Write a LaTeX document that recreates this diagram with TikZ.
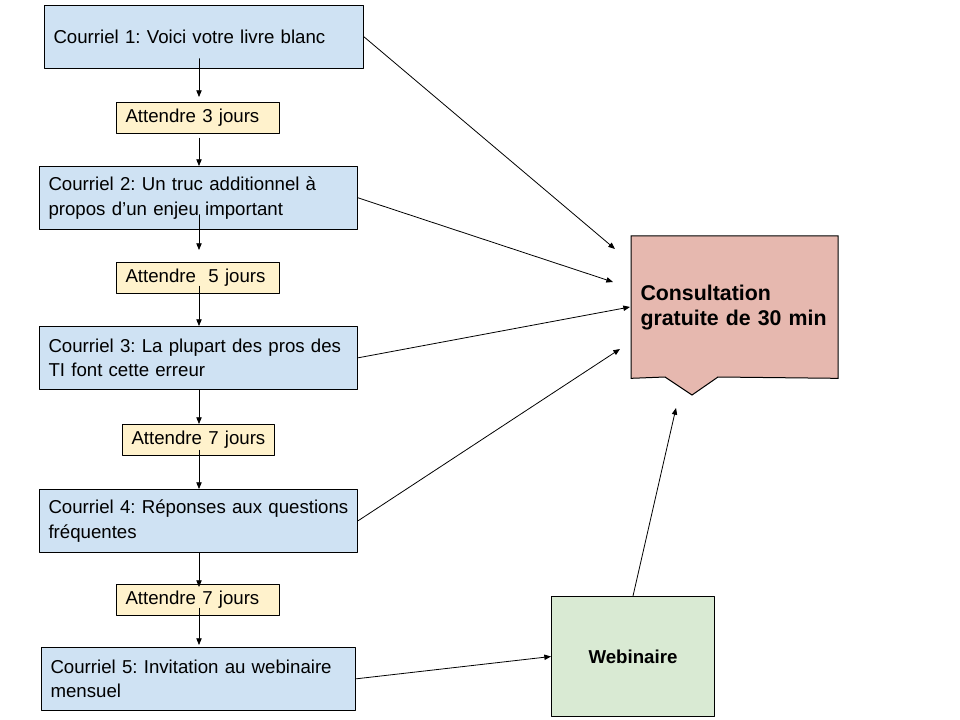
\documentclass[tikz,border=0pt]{standalone}
\usepackage{fontspec}
\setmainfont{Liberation Sans}
\usetikzlibrary{arrows.meta,backgrounds}
\definecolor{mailblue}{HTML}{CFE2F3}
\definecolor{waityellow}{HTML}{FFF2CC}
\definecolor{offerred}{HTML}{E6B8AF}
\definecolor{webgreen}{HTML}{D9EAD3}
\frenchspacing
\tikzset{
  box/.style={draw, line width=0.75pt, anchor=north west, align=left, inner xsep=6.75pt, inner ysep=0pt,
    font=\fontsize{14}{18.5}\selectfont},
  mail/.style={box, fill=mailblue, minimum height=47pt},
  wait/.style={box, fill=waityellow, minimum height=23.5pt},
  flow/.style={line width=0.6pt, -{Triangle[length=5pt,width=4pt]}}
}
\begin{document}
\begin{tikzpicture}[x=0.75pt,y=-0.75pt,line cap=round,line join=round]
  \useasboundingbox (0,0) rectangle (960,720);
  \node[mail,text width=225.75pt] (c1) at (44,5) {Courriel 1: Voici votre livre blanc};
  \node[wait,text width=108.75pt] (w1) at (116,102) {Attendre 3 jours};
  \node[mail,text width=225pt] (c2) at (39,166) {Courriel 2: Un truc additionnel à\\propos d’un enjeu important};
  \node[wait,text width=108.75pt] (w2) at (116,262) {Attendre\ \ 5 jours};
  \node[mail,text width=225pt] (c3) at (39,326) {Courriel 3: La plupart des pros des\\TI font cette erreur};
  \node[wait,text width=100.5pt] (w3) at (122,424) {Attendre 7 jours};
  \node[mail,text width=225pt] (c4) at (39,489) {Courriel 4: Réponses aux questions\\fréquentes};
  \node[wait,text width=108.75pt] (w4) at (116,584) {Attendre 7 jours};
  \node[mail,text width=222pt] (c5) at (41,647) {Courriel 5: Invitation au webinaire\\mensuel};
  \node[box,fill=webgreen,align=center,text width=108.75pt,minimum height=90pt,
    font=\fontsize{14}{18.5}\selectfont\bfseries] (web) at (551,596) {Webinaire};
  \node[box,draw=none,text width=141pt,minimum height=106pt,
    font=\fontsize{16}{18.75}\selectfont\bfseries] (cons) at (631,236) {Consultation\\gratuite de 30 min};
  % callout outline behind the text
  \begin{scope}[on background layer]
    \draw[line width=0.75pt,fill=offerred] (cons.north west) -- (cons.north east) -- (cons.south east)
      -- (718,377) -- (692,395) -- (665,377) -- (cons.south west) -- cycle;
  \end{scope}
  % waiting chain
  \coordinate (spine) at (199,0);
  \foreach \a/\b/\s/\e in {c1/w1/-7.5/3.75, w1/c2/3/0, c2/w2/-11.25/9, w2/c3/-6/0,
                           c3/w3/0/0, w3/c4/-4.5/0, c4/w4/0/-2.25, w4/c5/-6/1.5}
    \draw[flow,shorten <=\s pt,shorten >=\e pt] (\a.south -| spine) -- (\b.north -| spine);
  % links to the offer
  \coordinate (t1) at (615,249);
  \coordinate (t2) at (613,282);
  \coordinate (t3) at (630,307);
  \coordinate (t4) at (620,349);
  \coordinate (t5) at (676,408);
  \draw[flow] (c1.east) -- (t1);
  \draw[flow] (c2.east) -- (t2);
  \draw[flow] (c3.east) -- (t3);
  \draw[flow] (c4.east) -- (t4);
  \draw[flow] (c5.east) -- (web.west);
  \draw[flow] (web.north) -- (t5);
\end{tikzpicture}
\end{document}
